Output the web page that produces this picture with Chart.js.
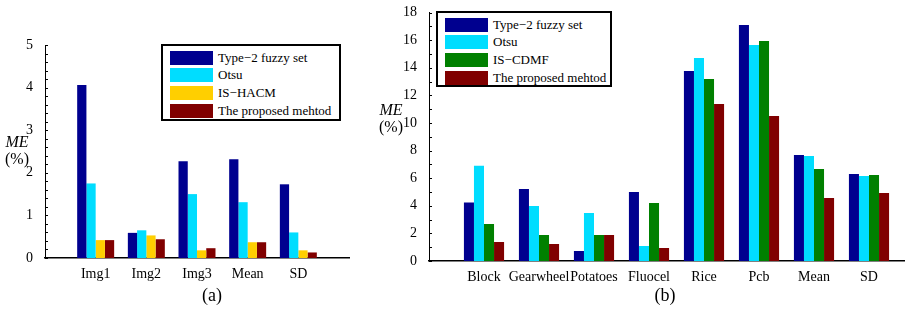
<!DOCTYPE html>
<html>
<head>
<meta charset="utf-8">
<script src="https://cdn.jsdelivr.net/npm/chart.js@4.4.1/dist/chart.umd.min.js"></script>
<style>
    body { margin: 0; width: 905px; height: 320px; overflow: hidden; background: #fff; position: relative; font-family: "Liberation Serif", "Times New Roman", serif; }
    canvas { position: absolute; top: 0; }
    .ylab { position: absolute; width: 40px; font-size: 16px; line-height: 17px; text-align: center; }
    .ylab i { display: block; }
    .legend { position: absolute; box-sizing: border-box; border: 2px solid #000; background: #fff; font-size: 13px; padding: 3px 0 0 7px; }
    .legend .row { display: flex; align-items: center; height: 17.6px; white-space: nowrap; }
    .legend .sw { display: inline-block; width: 43px; height: 14px; margin-right: 5px; }
    .caption { position: absolute; top: 285px; width: 40px; font-size: 18px; text-align: center; }
</style>
</head>
<body>
<canvas id="chartA" width="360" height="290" style="left:0"></canvas>
<canvas id="chartB" width="560" height="290" style="left:380px"></canvas>

<div class="ylab" style="left:-3px; top:133px"><i>ME</i>(%)</div>
<div class="ylab" style="left:371px; top:101px"><i>ME</i>(%)</div>
<div class="legend" id="legendA" style="left:161px; top:44px; width:180px; height:77px"></div>
<div class="legend" id="legendB" style="left:436px; top:11px; width:176px; height:76px"></div>
<div class="caption" style="left:192px">(a)</div>
<div class="caption" style="left:645px">(b)</div>

<script>
// (a) data
const categoriesA = ['Img1', 'Img2', 'Img3', 'Mean', 'SD'];
const type2A = [4.06, 0.59, 2.27, 2.32, 1.73];
const otsuA = [1.75, 0.65, 1.50, 1.31, 0.60];
const hacmA = [0.42, 0.53, 0.18, 0.37, 0.18];
const proposedA = [0.42, 0.44, 0.23, 0.37, 0.13];
const yTicksA = [0, 1, 2, 3, 4, 5];

// (b) data
const categoriesB = ['Block', 'Gearwheel', 'Potatoes', 'Fluocel', 'Rice', 'Pcb', 'Mean', 'SD'];
const type2B = [4.23, 5.22, 0.72, 5.00, 13.77, 17.10, 7.68, 6.30];
const otsuB = [6.90, 3.99, 3.48, 1.09, 14.71, 15.65, 7.61, 6.16];
const cdmfB = [2.68, 1.88, 1.88, 4.20, 13.19, 15.94, 6.67, 6.23];
const proposedB = [1.38, 1.23, 1.88, 0.94, 11.38, 10.50, 4.57, 4.93];
const yTicksB = [0, 2, 4, 6, 8, 10, 12, 14, 16, 18];

const NAVY = '#00008F';
const CYAN = '#00DDFF';
const YELLOW = '#FFCF00';
const GREEN = '#008000';
const MAROON = '#800000';

// MATLAB style ticks that point into the plot
const innerTicks = {
    id: 'innerTicks',
    afterDraw(chart) {
        const y = chart.scales.y;
        const ctx = chart.ctx;
        ctx.save();
        ctx.strokeStyle = '#000';
        ctx.lineWidth = 1;
        ctx.beginPath();
        y.ticks.forEach(t => {
            const py = Math.round(y.getPixelForValue(t.value)) + 0.5;
            ctx.moveTo(y.right, py);
            ctx.lineTo(y.right + 3, py);
        });
        ctx.stroke();
        ctx.restore();
    }
};

// pad with an empty slot on each side, like xlim [0 n+1]
function padded(arr, blank) {
    return [blank].concat(arr, [blank]);
}

function makeChart(id, categories, series, yMax, minorStep, majorTicks, layout) {
    const ctx = document.getElementById(id).getContext('2d');
    return new Chart(ctx, {
        type: 'bar',
        data: {
            labels: padded(categories, ''),
            datasets: series.map(s => ({
                label: s.label,
                data: padded(s.data, null),
                backgroundColor: s.color,
                borderWidth: 0,
                categoryPercentage: 0.73,
                barPercentage: 1.0
            }))
        },
        options: {
            responsive: false,
            animation: false,
            devicePixelRatio: 1,
            layout: { padding: layout.padding },
            plugins: { legend: { display: false }, tooltip: { enabled: false } },
            scales: {
                x: {
                    offset: false,
                    grid: { display: false },
                    border: { display: true, color: '#000', width: 1.5 },
                    ticks: {
                        autoSkip: false, maxRotation: 0, padding: 0, color: '#000',
                        font: { family: 'Liberation Serif', size: 14 }
                    },
                    afterFit: scale => { scale.height = layout.xHeight; }
                },
                y: {
                    min: 0,
                    max: yMax,
                    grid: { display: false },
                    border: { display: true, color: '#000', width: 1 },
                    ticks: {
                        stepSize: minorStep,
                        autoSkip: false,
                        padding: 4,
                        color: '#000',
                        font: { family: 'Liberation Serif', size: 14 },
                        callback: v => {
                            const r = Math.round(v);
                            return (Math.abs(v - r) < 1e-6 && majorTicks.includes(r)) ? r : '';
                        }
                    },
                    afterFit: scale => { scale.width = layout.yWidth; }
                }
            }
        },
        plugins: [innerTicks]
    });
}

function buildLegend(id, series) {
    const box = document.getElementById(id);
    series.forEach(s => {
        const row = document.createElement('div');
        row.className = 'row';
        row.innerHTML = `<span class="sw" style="background:${s.color}"></span>${s.label}`;
        box.appendChild(row);
    });
}

const seriesA = [
    { label: 'Type\u22122 fuzzy set', data: type2A, color: NAVY },
    { label: 'Otsu', data: otsuA, color: CYAN },
    { label: 'IS\u2212HACM', data: hacmA, color: YELLOW },
    { label: 'The proposed mehtod', data: proposedA, color: MAROON }
];
const seriesB = [
    { label: 'Type\u22122 fuzzy set', data: type2B, color: NAVY },
    { label: 'Otsu', data: otsuB, color: CYAN },
    { label: 'IS\u2212CDMF', data: cdmfB, color: GREEN },
    { label: 'The proposed mehtod', data: proposedB, color: MAROON }
];

makeChart('chartA', categoriesA, seriesA, 5, 0.2, yTicksA, {
    padding: { top: 45, right: 11, bottom: 0, left: 0 }, yWidth: 45, xHeight: 32
});
makeChart('chartB', categoriesB, seriesB, 18, 1, yTicksB, {
    padding: { top: 12.5, right: 16, bottom: 0, left: 0 }, yWidth: 49, xHeight: 29
});

buildLegend('legendA', seriesA);
buildLegend('legendB', seriesB);
</script>
</body>
</html>
